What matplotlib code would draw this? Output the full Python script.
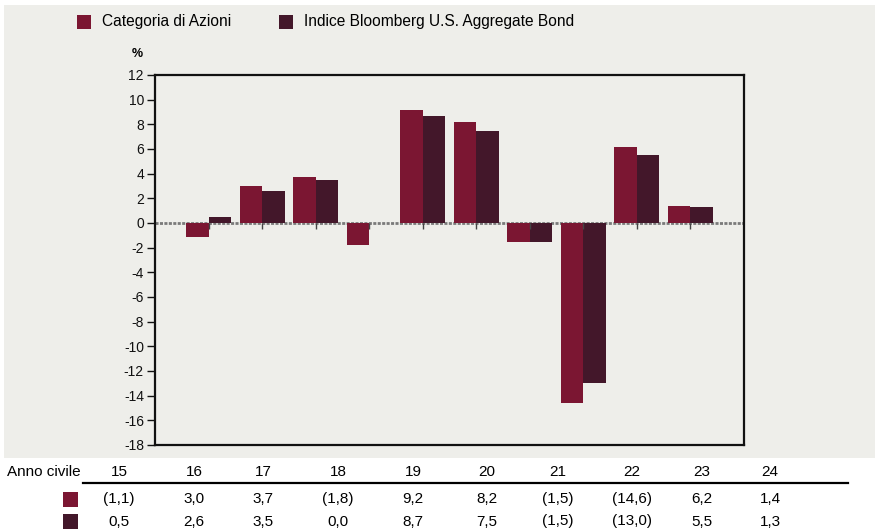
import matplotlib
matplotlib.use("Agg")
import matplotlib.pyplot as plt
from matplotlib.patches import Rectangle
from matplotlib import font_manager
import numpy as np

# ---- data ----
years = ["15", "16", "17", "18", "19", "20", "21", "22", "23", "24"]
series_names = ["Categoria di Azioni", "Indice Bloomberg U.S. Aggregate Bond"]
fund_returns = [-1.1, 3.0, 3.7, -1.8, 9.2, 8.2, -1.5, -14.6, 6.2, 1.4]
index_returns = [0.5, 2.6, 3.5, 0.0, 8.7, 7.5, -1.5, -13.0, 5.5, 1.3]
y_ticks = list(range(-18, 13, 2))
row_label = "Anno civile"

# ---- style ----
RED = "#7B1632"
DARK = "#43172A"
PANEL = "#EEEEEA"
W, H = 875, 531

available = {f.name for f in font_manager.fontManager.ttflist}
if "Liberation Sans Narrow" in available:
    FONT = "Liberation Sans Narrow"
    scale = 1.22
else:
    FONT = "Liberation Sans"
    scale = 1.0
plt.rcParams["font.family"] = [FONT, "DejaVu Sans"]

fig = plt.figure(figsize=(W / 100, H / 100), dpi=100, facecolor="white")


def fx(x):
    return x / W


def fy(y):
    return 1 - y / H


# grey panel behind legend and plot
panel = Rectangle((fx(4), fy(458)), fx(W) - fx(4), fy(5) - fy(458),
                  transform=fig.transFigure, facecolor=PANEL,
                  edgecolor="none", zorder=-10)
fig.patches.append(panel)

ax = fig.add_axes([fx(155), fy(445), fx(744) - fx(155), fy(75) - fy(445)])
ax.set_facecolor(PANEL)

x = np.arange(len(years))
bw = 0.42
ax.bar(x - bw / 2, fund_returns, width=bw, color=RED, zorder=2)
ax.bar(x + bw / 2, index_returns, width=bw, color=DARK, zorder=2)

ax.axhline(0, color="#7a7a7a", linewidth=2.0, linestyle=(0, (1.1, 0.5)), zorder=1)
ax.vlines(x, 0, -0.5, color="#444444", linewidth=1.0, zorder=3)

ax.set_xlim(-1, len(years))
ax.set_ylim(-18, 12)
ax.set_yticks(y_ticks)
ax.set_yticklabels([str(v) for v in y_ticks], fontsize=10 * scale)
ax.set_xticks([])
ax.tick_params(axis="y", direction="out", length=6, width=1.0, pad=2, colors="#111111")
for s in ax.spines.values():
    s.set_linewidth(1.6)
    s.set_color("#111111")

fig.text(fx(137), fy(54), "%", fontsize=9 * scale, fontweight="bold",
         ha="center", va="center")

# legend
leg_items = [(77, 102, RED, series_names[0]), (279, 304, DARK, series_names[1])]
for sx, tx, col, name in leg_items:
    fig.patches.append(Rectangle((fx(sx), fy(29)), fx(14), 14 / H,
                                 transform=fig.transFigure, facecolor=col,
                                 edgecolor="none", zorder=2))
    fig.text(fx(tx), fy(21.5), name, fontsize=11.2 * scale, ha="left", va="center")

# table below the chart
col_x = [119, 194, 263, 338, 413, 487, 558, 632, 702, 770]


def fmt(v):
    s = f"{abs(v):.1f}".replace(".", ",")
    return f"({s})" if v < 0 else s


fig.text(fx(7), fy(472), row_label, fontsize=11 * scale, ha="left", va="center")
for cx, yr in zip(col_x, years):
    fig.text(fx(cx), fy(472), yr, fontsize=11 * scale, ha="center", va="center")
fig.add_artist(plt.Line2D([fx(83), fx(848)], [fy(483), fy(483)],
                          transform=fig.transFigure, color="black", linewidth=1.6))

for ry, col, vals in [(499, RED, fund_returns), (521.5, DARK, index_returns)]:
    fig.patches.append(Rectangle((fx(63), fy(ry + 7.5)), fx(15), 15 / H,
                                 transform=fig.transFigure, facecolor=col,
                                 edgecolor="none"))
    for cx, v in zip(col_x, vals):
        fig.text(fx(cx), fy(ry), fmt(v), fontsize=11 * scale,
                 ha="center", va="center")

fig.savefig("out.png", dpi=100, facecolor="white")
